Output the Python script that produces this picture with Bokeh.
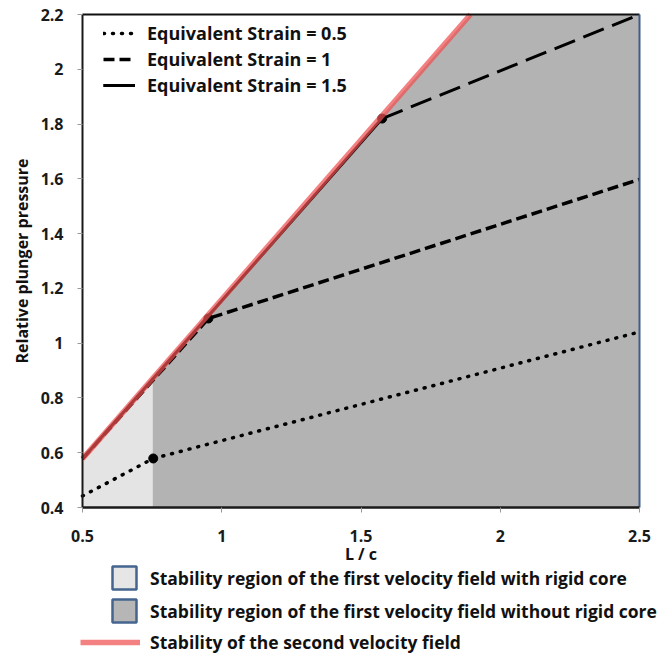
from bokeh.plotting import figure
from bokeh.models import Range1d, FixedTicker, Legend, LegendItem
from bokeh.embed import file_html
from bokeh.resources import INLINE
import numpy as np

# ---------------- data ----------------
x_limits = [0.5, 2.5]
y_limits = [0.4, 2.2]
x_ticks = [0.5, 1, 1.5, 2, 2.5]
x_tick_labels = ["0.5", "1", "1.5", "2", "2.5"]
y_ticks = [0.4, 0.6, 0.8, 1.0, 1.2, 1.4, 1.6, 1.8, 2.0, 2.2]
y_tick_labels = ["0.4", "0.6", "0.8", "1", "1.2", "1.4", "1.6", "1.8", "2", "2.2"]

# stability limit of the second velocity field (red line)
second_field_x = [0.5, 1.893]
second_field_y = [0.578, 2.2]

# boundary between "with rigid core" and "without rigid core"
rigid_core_limit_x = 0.752

strain_labels = ["Equivalent Strain = 0.5", "Equivalent Strain = 1", "Equivalent Strain = 1.5"]
strain05_x = [0.5, 0.754, 2.5]
strain05_y = [0.442, 0.579, 1.041]
strain1_x = [0.5, 0.952, 2.5]
strain1_y = [0.578, 1.09, 1.598]
strain15_x = [0.5, 1.576, 2.5]
strain15_y = [0.578, 1.82, 2.2]

region_labels = [
    "Stability region of the first velocity field with rigid core",
    "Stability region of the first velocity field without rigid core",
]
red_label = "Stability of the second velocity field"

# ---------------- derived geometry ----------------
red_at_core = float(np.interp(rigid_core_limit_x, second_field_x, second_field_y))
light_xs = [x_limits[0], rigid_core_limit_x, rigid_core_limit_x, x_limits[0]]
light_ys = [y_limits[0], y_limits[0], red_at_core, second_field_y[0]]
dark_xs = [rigid_core_limit_x, x_limits[1], x_limits[1], second_field_x[1], rigid_core_limit_x]
dark_ys = [y_limits[0], y_limits[0], y_limits[1], second_field_y[1], red_at_core]

# ---------------- layout (pixels) ----------------
W, H = 672, 653
PLOT_L, PLOT_R, PLOT_T, PLOT_B = 82, 639, 14, 507
sx = (PLOT_R - PLOT_L) / (x_limits[1] - x_limits[0])
sy = (PLOT_B - PLOT_T) / (y_limits[1] - y_limits[0])
x_rng = Range1d(x_limits[0] - PLOT_L / sx, x_limits[1] + (W - PLOT_R) / sx)
y_rng = Range1d(y_limits[0] - (H - PLOT_B) / sy, y_limits[1] + PLOT_T / sy)

FONT = "Open Sans"
BOX_LINE = "#46658e"
RED = "#ee5050"

p = figure(width=W, height=H, output_backend="svg", toolbar_location=None,
           x_range=x_rng, y_range=y_rng, min_border=0)
p.grid.visible = False
p.outline_line_color = None
p.background_fill_color = "white"
p.border_fill_color = "white"

# regions
p.patch(light_xs, light_ys, fill_color="#e4e4e4", line_color=None)
p.patch(dark_xs, dark_ys, fill_color="#b3b3b3", line_color=None)

# legend keys for regions (same polygons, shown only in the legend)
key_light = p.patch(light_xs, light_ys, fill_color="#e6e6e6", line_color=BOX_LINE,
                    line_width=2.5, visible=False)
key_dark = p.patch(dark_xs, dark_ys, fill_color="#b6b6b6", line_color=BOX_LINE,
                   line_width=2.5, visible=False)

# strain lines
s05 = p.line(strain05_x, strain05_y, line_color="black", line_width=3.5,
             line_dash="1 8", line_cap="round")
s1 = p.line(strain1_x, strain1_y, line_color="black", line_width=3.5, line_dash="11 5")
s15a = p.line(strain15_x[:2], strain15_y[:2], line_color="black", line_width=3)
s15b = p.line(strain15_x[1:], strain15_y[1:], line_color="black", line_width=3, line_dash="22 9")

# transition points
p.scatter([strain05_x[1], strain1_x[1], strain15_x[1]],
          [strain05_y[1], strain1_y[1], strain15_y[1]], size=9, color="black")

# red line
red_r = p.line(second_field_x, second_field_y, line_color=RED, line_alpha=0.72, line_width=5.5)

# frame edges: top and right
p.line(x_limits, [y_limits[1], y_limits[1]], line_color="#111111", line_width=2)
p.line([x_limits[1], x_limits[1]], y_limits, line_color="#3f5f86", line_width=2)

# axes (fixed inside the canvas)
p.xaxis.fixed_location = y_limits[0]
p.yaxis.fixed_location = x_limits[0]
p.xaxis.bounds = tuple(x_limits)
p.yaxis.bounds = tuple(y_limits)
for ax in (p.xaxis[0], p.yaxis[0]):
    ax.major_label_text_font = FONT
    ax.major_label_text_font_style = "bold"
    ax.major_label_text_font_size = "16px"
    ax.major_label_text_color = "#1a1a1a"
    ax.axis_label_text_font = FONT
    ax.axis_label_text_font_style = "bold"
    ax.axis_label_text_font_size = "16px"
    ax.axis_label_text_color = "#111111"
    ax.major_tick_line_color = "#999999"
    ax.major_tick_out = 5
    ax.major_tick_in = 0
    ax.minor_tick_line_color = None
    ax.axis_line_color = "#1a1a1a"

p.xaxis.ticker = FixedTicker(ticks=x_ticks)
p.xaxis.major_label_overrides = dict(zip(x_ticks, x_tick_labels))
p.yaxis.ticker = FixedTicker(ticks=y_ticks)
p.yaxis.major_label_overrides = dict(zip(y_ticks, y_tick_labels))
p.xaxis.axis_label = "L / c"
p.yaxis.axis_label = "Relative plunger pressure"
p.xaxis.axis_line_width = 2.5
p.yaxis.axis_line_width = 2
p.xaxis.major_label_standoff = 17
p.yaxis.major_label_standoff = 14
p.xaxis.axis_label_standoff = -2
p.yaxis.axis_label_standoff = 5


def style_legend(lg, size="18px"):
    lg.label_text_font = FONT
    lg.label_text_font_style = "bold"
    lg.label_text_font_size = size
    lg.label_text_color = "#111111"
    lg.background_fill_alpha = 0
    lg.border_line_color = None
    lg.inactive_fill_alpha = 0
    lg.padding = 0
    lg.margin = 0
    lg.click_policy = "none"


top_legend = Legend(items=[
    LegendItem(label=strain_labels[0], renderers=[s05]),
    LegendItem(label=strain_labels[1], renderers=[s1]),
    LegendItem(label=strain_labels[2], renderers=[s15a, s15b]),
], location=(103, 556), glyph_width=32, glyph_height=20, label_height=20,
   spacing=2, label_standoff=12)
style_legend(top_legend)
p.add_layout(top_legend)

box_legend = Legend(items=[
    LegendItem(label=region_labels[0], renderers=[key_light]),
    LegendItem(label=region_labels[1], renderers=[key_dark]),
], location=(109, 28), glyph_width=30, glyph_height=29, label_height=20,
   spacing=4, label_standoff=11)
style_legend(box_legend, "17.5px")
p.add_layout(box_legend)

red_legend = Legend(items=[LegendItem(label=red_label, renderers=[red_r])],
                    location=(80, -1), glyph_width=60, glyph_height=20, label_height=20,
                    spacing=0, label_standoff=10)
style_legend(red_legend, "17.5px")
p.add_layout(red_legend)

open("out.html", "w").write(file_html(p, INLINE))
